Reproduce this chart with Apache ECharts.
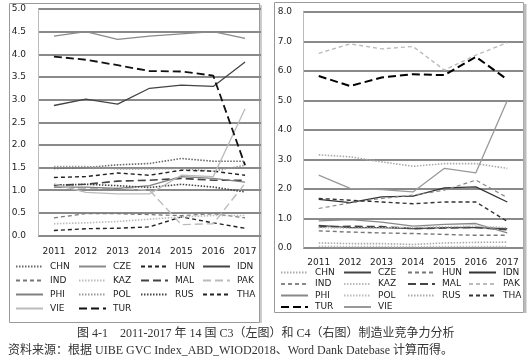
<!DOCTYPE html>
<html><head><meta charset="utf-8">
<script src="https://cdn.jsdelivr.net/npm/echarts@6/dist/echarts.min.js"></script>
<style>
html,body{margin:0;padding:0;background:#fff;}
#wrap{position:relative;width:531px;height:363px;}
#left{position:absolute;left:0;top:0;width:531px;height:363px;}
#right{position:absolute;left:270px;top:0;width:261px;height:363px;}
</style></head>
<body><div id="wrap"><div id="left"></div><div id="right"></div></div>
<script>
const years = ['2011','2012','2013','2014','2015','2016','2017'];
const names = ['CHN','CZE','HUN','IDN','IND','KAZ','MAL','PAK','PHI','POL','RUS','THA','VIE','TUR'];

// C3 (left chart)
const c3_CHN = [1.48,1.50,1.56,1.59,1.70,1.64,1.64];
const c3_CZE = [4.40,4.50,4.33,4.40,4.45,4.50,4.35];
const c3_HUN = [0.11,0.15,0.16,0.19,0.41,0.28,0.16];
const c3_IDN = [2.87,3.01,2.90,3.25,3.32,3.29,3.83];
const c3_IND = [0.39,0.48,0.48,0.46,0.44,0.48,0.39];
const c3_KAZ = [0.26,0.28,0.31,0.36,0.41,0.44,0.44];
const c3_MAL = [1.11,1.13,1.20,1.22,1.26,1.22,1.22];
const c3_PAK = [1.07,1.04,1.04,1.00,0.24,0.26,1.15];
const c3_PHI = [1.07,1.07,1.04,1.10,1.30,1.26,1.18];
const c3_POL = [1.52,1.52,1.47,1.47,1.48,1.42,1.55];
const c3_RUS = [1.11,1.13,1.10,1.06,1.13,1.07,0.96];
const c3_THA = [1.28,1.30,1.38,1.33,1.44,1.42,1.33];
const c3_VIE = [1.14,0.95,0.92,0.92,1.33,1.30,2.80];
const c3_TUR = [3.95,3.88,3.76,3.63,3.62,3.53,1.55];

// C4 (right chart)
const c4_CHN = [3.16,3.09,2.92,2.77,2.86,2.86,2.70];
const c4_CZE = [0.77,0.69,0.69,0.66,0.69,0.69,0.66];
const c4_HUN = [0.58,0.54,0.51,0.49,0.46,0.43,0.43];
const c4_IDN = [1.65,1.54,1.73,1.76,2.04,2.07,1.56];
const c4_IND = [1.34,1.53,1.68,1.79,1.96,2.30,1.71];
const c4_KAZ = [0.06,0.05,0.05,0.04,0.05,0.05,0.05];
const c4_MAL = [0.72,0.73,0.72,0.66,0.68,0.70,0.62];
const c4_PAK = [6.60,6.92,6.75,6.83,6.03,6.54,6.96];
const c4_PHI = [0.92,0.96,0.88,0.74,0.80,0.83,0.51];
const c4_POL = [0.69,0.67,0.68,0.70,0.72,0.74,0.69];
const c4_RUS = [0.17,0.15,0.15,0.12,0.17,0.19,0.20];
const c4_THA = [1.68,1.62,1.56,1.50,1.56,1.56,0.90];
const c4_VIE = [2.47,2.02,1.98,1.90,2.70,2.55,5.00];
const c4_TUR = [5.83,5.49,5.78,5.89,5.86,6.48,5.71];

const c3 = {CHN:c3_CHN,CZE:c3_CZE,HUN:c3_HUN,IDN:c3_IDN,IND:c3_IND,KAZ:c3_KAZ,MAL:c3_MAL,PAK:c3_PAK,PHI:c3_PHI,POL:c3_POL,RUS:c3_RUS,THA:c3_THA,VIE:c3_VIE,TUR:c3_TUR};
const c4 = {CHN:c4_CHN,CZE:c4_CZE,HUN:c4_HUN,IDN:c4_IDN,IND:c4_IND,KAZ:c4_KAZ,MAL:c4_MAL,PAK:c4_PAK,PHI:c4_PHI,POL:c4_POL,RUS:c4_RUS,THA:c4_THA,VIE:c4_VIE,TUR:c4_TUR};

const DOT=[1.5,1.5], DASH=[4,3], LDASH=[8,4];
const styleL = {
  CHN:{c:'#666',t:DOT,w:1.6}, CZE:{c:'#8a8a8a',t:'solid',w:1.3}, HUN:{c:'#222',t:DASH,w:1.4},
  IDN:{c:'#444',t:'solid',w:1.3}, IND:{c:'#777',t:DASH,w:1.2}, KAZ:{c:'#bbb',t:DOT,w:1.6},
  MAL:{c:'#444',t:LDASH,w:1.6}, PAK:{c:'#bbb',t:LDASH,w:1.4}, PHI:{c:'#808080',t:'solid',w:1.3},
  POL:{c:'#999',t:DOT,w:1.6}, RUS:{c:'#444',t:DOT,w:1.6}, THA:{c:'#222',t:DASH,w:1.4},
  VIE:{c:'#bbb',t:'solid',w:1.3}, TUR:{c:'#111',t:LDASH,w:1.8}
};
const styleR = {
  CHN:{c:'#aaa',t:DOT,w:1.6}, CZE:{c:'#444',t:'solid',w:1.3}, HUN:{c:'#777',t:DASH,w:1.4},
  IDN:{c:'#333',t:'solid',w:1.3}, IND:{c:'#888',t:DASH,w:1.2}, KAZ:{c:'#bbb',t:DOT,w:1.6},
  MAL:{c:'#444',t:LDASH,w:1.8}, PAK:{c:'#bbb',t:DASH,w:1.4}, PHI:{c:'#888',t:'solid',w:1.3},
  POL:{c:'#bbb',t:DOT,w:1.6}, RUS:{c:'#aaa',t:DOT,w:1.6}, THA:{c:'#333',t:DASH,w:1.4},
  VIE:{c:'#999',t:'solid',w:1.3}, TUR:{c:'#000',t:LDASH,w:2}
};

function seriesOf(data, st){
  return names.map(n => ({
    name:n, type:'line', data:data[n], symbol:'none', showSymbol:false, silent:true, animation:false,
    lineStyle:{color:st[n].c, type:st[n].t, width:st[n].w}, itemStyle:{color:st[n].c}
  }));
}
const FONT = 'DejaVu Sans';
function legendCols(cols, lefts, top, gap){
  return cols.map((col,i)=>({
    orient:'vertical', left:lefts[i], top:top, itemGap:gap, itemWidth:27, itemHeight:6,
    padding:0, selectedMode:false, data:col,
    itemStyle:{opacity:0, borderWidth:0},
    textStyle:{fontFamily:FONT, fontSize:9, color:'#222', padding:[0,0,0,2]}
  }));
}
function axes(min,max,interval,ym,xm){
  return {
    xAxis:{type:'category', data:years, boundaryGap:true,
      axisLine:{show:false}, axisTick:{show:false}, splitLine:{show:false},
      axisLabel:{fontFamily:FONT, fontSize:9, color:'#222', margin:xm}},
    yAxis:{type:'value', min:min, max:max, interval:interval,
      axisLine:{show:true, lineStyle:{color:'#bbb', width:1}}, axisTick:{show:false},
      splitLine:{lineStyle:{color:'#8a8a8a', width:2}},
      axisLabel:{fontFamily:FONT, fontSize:9, color:'#222', margin:ym, formatter:v=>v.toFixed(1)}}
  };
}

const CAPFONT = '12px "Liberation Serif", "Noto Sans CJK SC"';
const left = echarts.init(document.getElementById('left'), null, {renderer:'canvas'});
const la = axes(0,5,0.5,12,12);
left.setOption({
  animation:false,
  grid:{left:38, top:9, width:223, height:226.5},
  xAxis:la.xAxis, yAxis:la.yAxis,
  legend: legendCols([['CHN','IND','PHI','VIE'],['CZE','KAZ','POL','TUR'],['HUN','MAL','RUS'],['IDN','PAK','THA']],
                     [15,78,140,202], 262, 5),
  series: seriesOf(c3, styleL),
  graphic:[
    {type:'rect', shape:{x:9.5,y:3.5,width:250,height:319}, style:{fill:'none', stroke:'#999', lineWidth:1}, z:-1},
    {type:'line', shape:{x1:261,y1:5,x2:261,y2:323}, style:{stroke:'#ccc', lineWidth:2}, z:-1},
    {type:'text', left:77, top:328, style:{text:'图 4-1　2011-2017 年 14 国 C3（左图）和 C4（右图）制造业竞争力分析', font:CAPFONT, fill:'#333'}},
    {type:'text', left:8, top:345, style:{text:'资料来源：根据 UIBE GVC Index_ABD_WIOD2018、Word Dank Datebase 计算而得。', font:CAPFONT, fill:'#333'}}
  ]
});

const right = echarts.init(document.getElementById('right'), null, {renderer:'canvas'});
const ra = axes(0,8,1,11,10);
right.setOption({
  animation:false,
  backgroundColor:'transparent',
  grid:{left:33, top:12, width:220, height:236},
  xAxis:ra.xAxis, yAxis:ra.yAxis,
  legend: legendCols([['CHN','IND','PHI','TUR'],['CZE','KAZ','POL','VIE'],['HUN','MAL','RUS'],['IDN','PAK','THA']],
                     [10,73,137,198], 268, 2.5),
  series: seriesOf(c4, styleR),
  graphic:[
    {type:'rect', shape:{x:4.5,y:2.5,width:249,height:310}, style:{fill:'none', stroke:'#999', lineWidth:1}, z:-1},
    {type:'line', shape:{x1:255,y1:4,x2:255,y2:313}, style:{stroke:'#bbb', lineWidth:3}, z:-1}
  ]
});
</script></body></html>
